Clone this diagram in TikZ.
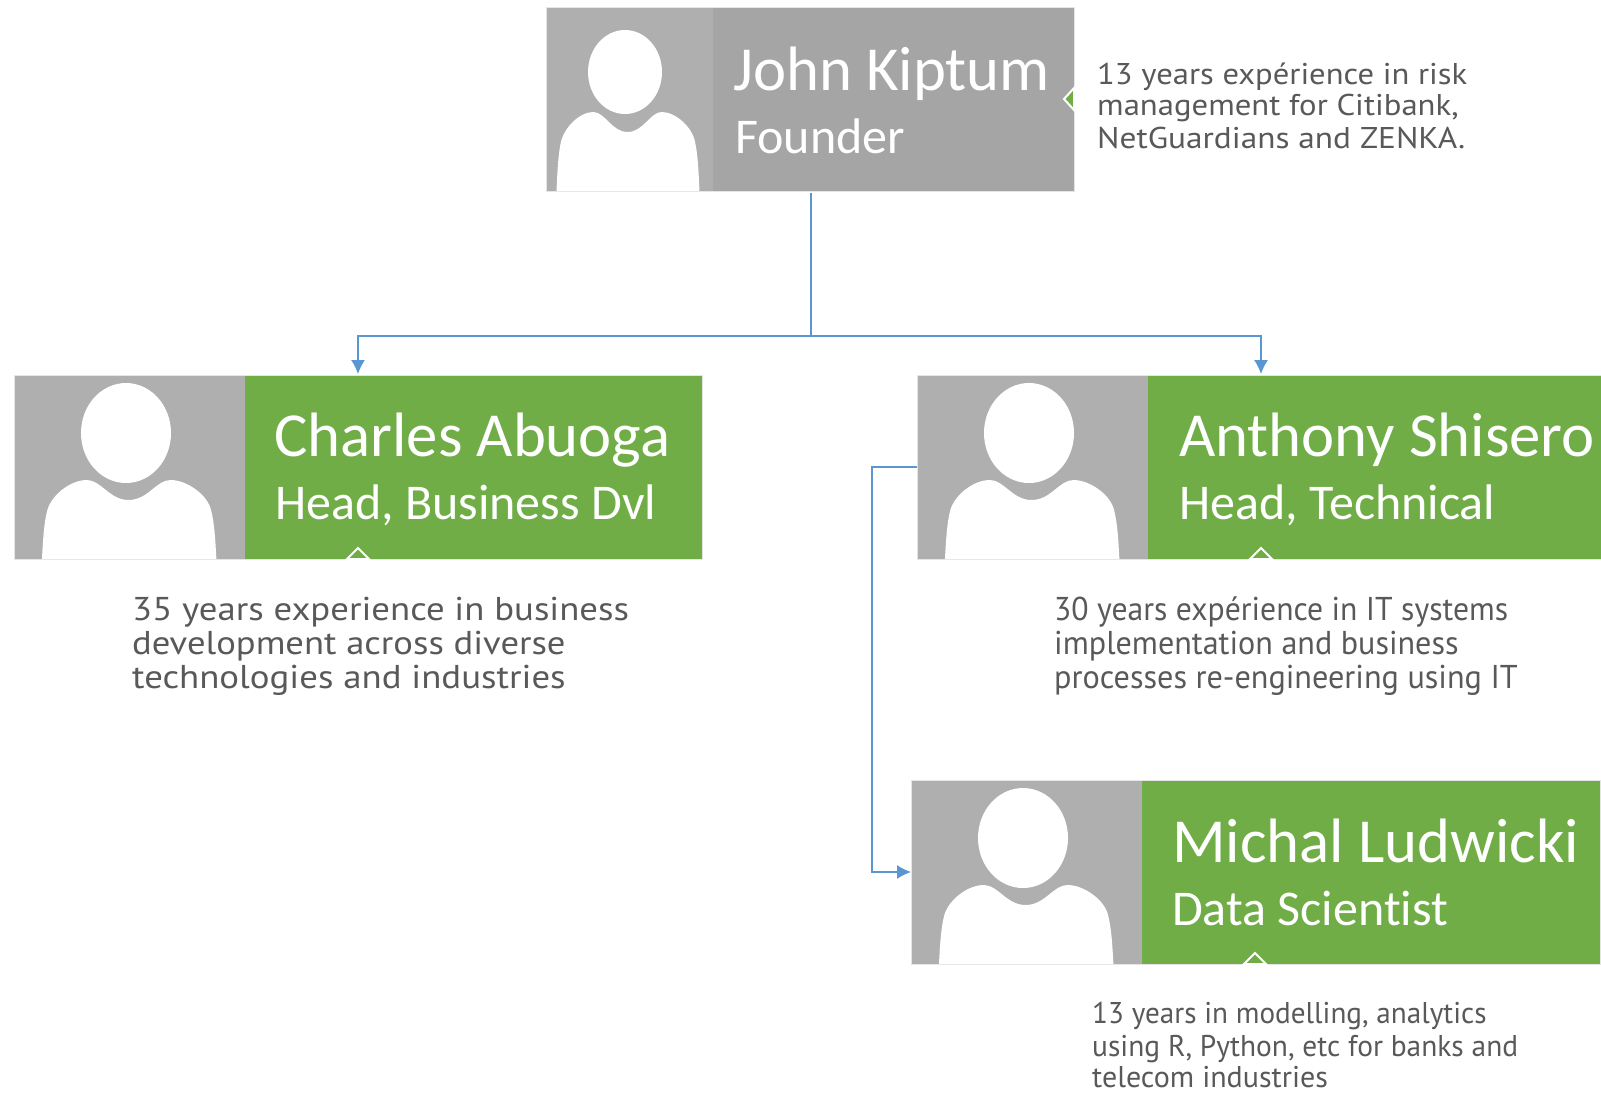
\documentclass[tikz,border=0pt]{standalone}
\usepackage{fontspec}
\setmainfont[Ligatures=NoCommon]{Carlito}
\newfontfamily\descfont{PT Sans}
\usetikzlibrary{arrows.meta}
\definecolor{cardgreen}{HTML}{70AD47}
\definecolor{cardgrey}{HTML}{A5A5A5}
\definecolor{photogrey}{HTML}{AFAFAF}
\definecolor{linkblue}{HTML}{5A96D2}
\definecolor{desccol}{HTML}{595959}
\tikzset{
  x=1pt,y=-1pt,
  photobox/.style={anchor=north west,inner sep=0pt,outer sep=0pt,minimum height=184pt,fill=photogrey},
  namebox/.style={anchor=north west,inner sep=0pt,outer sep=0pt,minimum height=184pt,fill=cardgreen},
  cardedge/.style={draw=black!10,line width=.8pt},
  nametext/.style={anchor=base west,inner sep=0pt,text=white,font=\fontsize{62.7}{62.7}\selectfont},
  roletext/.style={anchor=base west,inner sep=0pt,text=white,font=\fontsize{50}{50}\selectfont},
  desctext/.style={anchor=base west,inner sep=0pt,text=desccol,font=\descfont\fontsize{#1}{#1}\selectfont},
  desctext/.default=33,
  link/.style={draw=linkblue,line width=1.4pt},
  linkarrow/.style={link,-{Latex[length=14pt,width=14pt]}},
  tick/.style={fill=cardgreen,draw=white,line width=2pt,line join=miter}
}
% \avatar{x0}{y0}{body shift}{body xscale}{head cx}{head cy}{head rx}{head ry}
\newcommand{\avatar}[8]{%
  \begin{scope}[shift={(#1+#3,#2)},xscale=#4]
    \fill[white] (28,184) .. controls (29,165) and (30,148) .. (33,136)
      .. controls (37,120) and (56,105) .. (72,105)
      .. controls (86,105) and (94,125) .. (113,125)
      .. controls (132,125) and (140,105) .. (154,105)
      .. controls (170,105) and (191,120) .. (194,136)
      .. controls (197,148) and (198,165) .. (199,184) -- cycle;
  \end{scope}
  \fill[white] (#1+#5,#2+#6) ellipse [x radius=#7, y radius=#8];
}
\begin{document}
\begin{tikzpicture}
\useasboundingbox (0,0) rectangle (1601,1093);
\fill[white] (0,0) rectangle (1601,1093);

% founder
\node[photobox,minimum width=167pt] (p0) at (546,7) {};
\node[namebox,minimum width=361pt,fill=cardgrey] (n0) at (713,7) {};
\draw[cardedge] (p0.north west) rectangle (n0.south east);
\avatar{546}{7}{-12.9}{.836}{79}{65}{37}{42}
\node[nametext] (t0) at (733,90) {John Kiptum};
\node[roletext] (r0) at (735,153) {Founder};
\fill[tick] (1074,88) -- (1064,99) -- (1074,110) -- cycle;
\node[desctext=30] (d0a) at (1097,84) {\scalebox{1.087}[1]{13 years expérience in risk}};
\node[desctext=30] (d0b) at (1097,115) {\scalebox{1.09}[1]{management for Citibank,}};
\node[desctext=30] (d0c) at (1097,148) {\scalebox{1.11}[1]{NetGuardians and ZENKA.}};

% charles
\node[photobox,minimum width=231pt] (p1) at (14,375) {};
\node[namebox,minimum width=457pt] (n1) at (245,375) {};
\draw[cardedge] (p1.north west) rectangle (n1.south east);
\avatar{14}{375}{-.6}{1.02}{112}{58}{45}{50}
\node[nametext] (t1) at (274,456) {Charles Abuoga};
\node[roletext] (r1) at (275,519) {Head, Business Dvl};
\fill[tick] (347,559) -- (358,548) -- (369,559) -- cycle;
\node[desctext] (d1a) at (132,620) {\scalebox{1.115}[1]{35 years experience in business}};
\node[desctext] (d1b) at (132,654) {\scalebox{1.11}[1]{development across diverse}};
\node[desctext] (d1c) at (132,688) {\scalebox{1.116}[1]{technologies and industries}};

% anthony
\node[photobox,minimum width=231pt] (p2) at (917,375) {};
\node[namebox,minimum width=460pt] (n2) at (1148,375) {};
\draw[cardedge] (p2.north west) rectangle (n2.south east);
\avatar{917}{375}{-.6}{1.02}{112}{58}{45}{50}
\node[nametext] (t2) at (1179,456) {Anthony Shisero};
\node[roletext] (r2) at (1179,519) {Head, Technical};
\fill[tick] (1250,559) -- (1261,548) -- (1272,559) -- cycle;
\node[desctext] (d2a) at (1054,620) {\scalebox{.96}[1]{30 years expérience in IT systems}};
\node[desctext] (d2b) at (1054,654) {\scalebox{.973}[1]{implementation and business}};
\node[desctext] (d2c) at (1054,688) {\scalebox{.976}[1]{processes re-engineering using IT}};

% michal
\node[photobox,minimum width=231pt] (p3) at (911,780) {};
\node[namebox,minimum width=458pt] (n3) at (1142,780) {};
\draw[cardedge] (p3.north west) rectangle (n3.south east);
\avatar{911}{780}{-.6}{1.02}{112}{58}{45}{50}
\node[nametext] (t3) at (1172,862) {Michal Ludwicki};
\node[roletext] (r3) at (1172,925) {Data Scientist};
\fill[tick] (1244,964) -- (1255,953) -- (1266,964) -- cycle;
\node[desctext=30] (d3a) at (1092,1023) {\scalebox{.972}[1]{13 years in modelling, analytics}};
\node[desctext=30] (d3b) at (1092,1056) {\scalebox{.98}[1]{using R, Python, etc for banks and}};
\node[desctext=30] (d3c) at (1092,1087) {telecom industries};

% connectors
\coordinate (f0) at (811,193);
\coordinate (j0) at (811,336);
\coordinate (a1) at (358,374);
\coordinate (a2) at (1261,374);
\coordinate (v2) at (872,660);
\draw[link] (f0) -- (j0);
\draw[linkarrow] (j0) -| (a1);
\draw[linkarrow] (j0) -| (a2);
\draw[linkarrow] (p2.west) -| (v2) |- (p3.west);
\end{tikzpicture}
\end{document}
